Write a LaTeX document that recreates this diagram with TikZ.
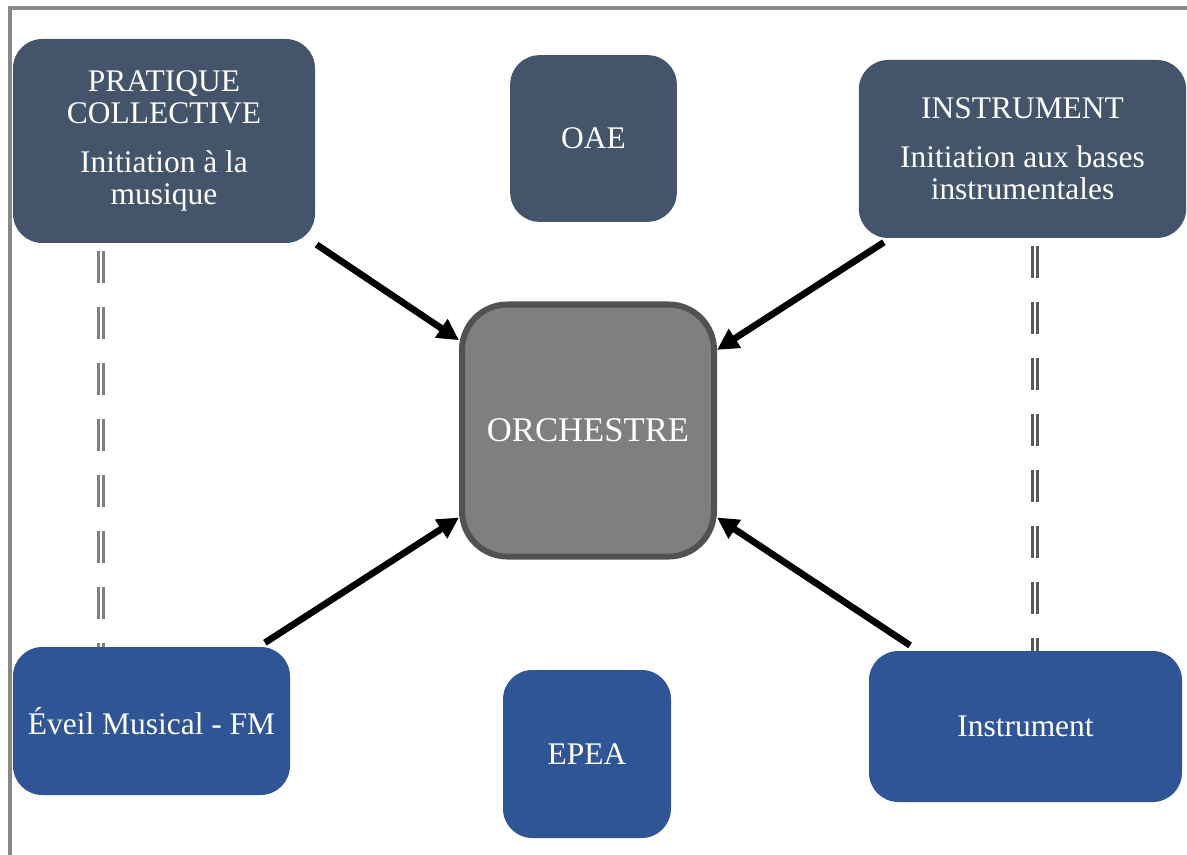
\documentclass[tikz,border=0pt]{standalone}
\usepackage{fontspec}
\setmainfont{Liberation Serif}
\usetikzlibrary{arrows.meta,positioning}
\definecolor{slate}{HTML}{44546A}
\definecolor{royal}{HTML}{2F5597}
\definecolor{orchfill}{HTML}{7F7F7F}
\definecolor{orchline}{HTML}{525252}
\definecolor{framegray}{HTML}{888888}

\begin{document}
\begin{tikzpicture}[x=0.75pt, y=-0.75pt,
    box/.style={rectangle, rounded corners=22pt, inner sep=0pt, text=white,
      align=center, font=\fontsize{23.6}{24.2}\selectfont},
    topbox/.style={box, fill=slate},
    lowbox/.style={box, fill=royal},
    hub/.style={rectangle, rounded corners=34pt, draw=orchline, line width=4.5pt,
      fill=orchfill, text=white, minimum width=189pt, minimum height=189pt,
      font=\fontsize{26}{26}\selectfont},
    feed/.style={line width=5pt, -{Triangle[length=16pt, width=16pt]}},
    link/.style={double=white, double distance=2pt, line width=2pt,
      dash pattern=on 24pt off 18pt}]

\useasboundingbox (0,0) rectangle (1187,855);

% Frame
\draw[framegray, line width=2.3pt] (10,855) -- (10,8) -- (1187,8);

% Upper row
\node[topbox, minimum width=226.5pt, minimum height=153pt] (prat) at (164,141)
  {PRATIQUE\\COLLECTIVE\\[12pt]Initiation à la\\musique};
\node[topbox, minimum width=125pt, minimum height=125pt] (oae) at (593.5,138.5) {OAE};
\node[topbox, minimum width=245.5pt, minimum height=133.5pt] (instr) at (1022.5,149)
  {INSTRUMENT\\[12pt]Initiation aux bases\\instrumentales};

% Centre
\node[hub] (orch) at (588,430.5) {ORCHESTRE};

% Lower row
\node[lowbox, minimum width=207.75pt, minimum height=111pt] (eveil) at (151.5,721) {Éveil Musical - FM};
\node[lowbox, minimum width=126pt, minimum height=126pt] (epea) at (587,754) {EPEA};
\node[lowbox, minimum width=234.75pt, minimum height=113.25pt] (instru) at (1025.5,726.5) {Instrument};

% Links between levels
\draw[link, color=orchfill] ([xshift=-47.25pt, yshift=-6pt]prat.south)
  -- ([xshift=-47.25pt]prat.south |- eveil.north);
\draw[link, color=gray!70!black] ([xshift=9.4pt, yshift=-6pt]instr.south)
  -- ([xshift=9.4pt]instr.south |- instru.north);

% Arrows
\draw[feed] ([xshift=1pt, yshift=-1pt]prat.south east) -- (orch.145);
\draw[feed] ([xshift=19pt, yshift=-3pt]instr.south west) -- (orch.32);
\draw[feed] ([xshift=-19pt, yshift=3pt]eveil.north east) -- (orch.214);
\draw[feed] ([xshift=31pt, yshift=4pt]instru.north west) -- (orch.326);

\end{tikzpicture}
\end{document}
